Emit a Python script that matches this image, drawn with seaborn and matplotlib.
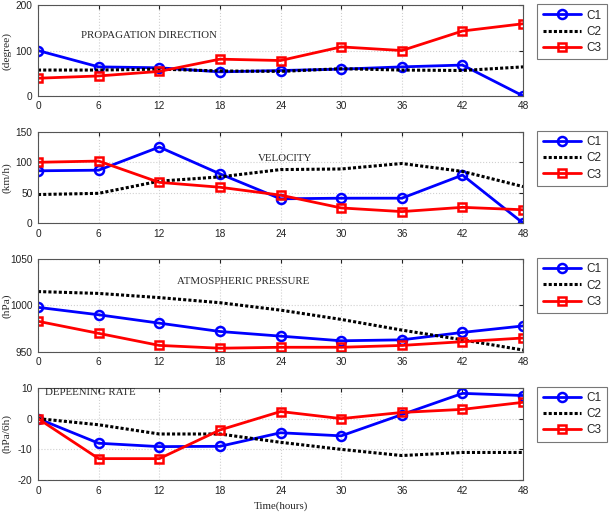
import numpy as np
import pandas as pd
import matplotlib
matplotlib.use("Agg")
import matplotlib.pyplot as plt
import seaborn as sns

sns.set_style("white")
plt.rcParams["axes.unicode_minus"] = False

# time axis
hours = [0, 6, 12, 18, 24, 30, 36, 42, 48]

# propagation direction (degree)
dir_c1 = [100, 64, 62, 53, 56, 59, 64, 68, 0]
dir_c2 = [57, 57, 59, 55, 54, 60, 57, 56, 64]
dir_c3 = [39, 44, 54, 81, 78, 108, 100, 143, 159]

# velocity (km/h)
vel_c1 = [86, 87, 125, 81, 40, 41, 41, 79, 0]
vel_c2 = [47, 49, 69, 76, 88, 89, 98, 85, 60]
vel_c3 = [100, 102, 67, 59, 46, 25, 19, 26, 22]

# atmospheric pressure (hPa)
pres_c1 = [998, 990, 981, 972, 967, 962, 963, 971, 978]
pres_c2 = [1015, 1013, 1008.5, 1003, 995, 985, 973.5, 963, 952]
pres_c3 = [983, 970, 957, 954, 955, 955, 957, 961, 965]

# deepening rate (hPa/6h)
rate_c1 = [0, -8, -9.1, -9, -4.6, -5.6, 1.3, 8.2, 7.5]
rate_c2 = [0, -2, -5, -5, -7.7, -10, -12, -11, -11]
rate_c3 = [0, -13, -13, -3.7, 2.3, 0, 2, 3, 5.3]

panels = [
    ("PROPAGATION DIRECTION", "(degree)", [dir_c1, dir_c2, dir_c3], (0, 200), [0, 100, 200], (4.3, 134)),
    ("VELOCITY", "(km/h)", [vel_c1, vel_c2, vel_c3], (0, 150), [0, 50, 100, 150], (21.8, 106)),
    ("ATMOSPHERIC PRESSURE", "(hPa)", [pres_c1, pres_c2, pres_c3], (950, 1050), [950, 1000, 1050], (13.8, 1026)),
    ("DEPEENING RATE", "(hPa/6h)", [rate_c1, rate_c2, rate_c3], (-20, 10), [-20, -10, 0, 10], (0.7, 8.5)),
]

styles = {
    "C1": dict(color="#0000ff", marker="o", linestyle="-", linewidth=2.0, markersize=6.5,
               markerfacecolor="none", markeredgecolor="#0000ff", markeredgewidth=1.8),
    "C2": dict(color="black", marker="None", linestyle=(0, (1, 0.7)), linewidth=2.2),
    "C3": dict(color="#ff0000", marker="s", linestyle="-", linewidth=2.0, markersize=6,
               markerfacecolor="none", markeredgecolor="#ff0000", markeredgewidth=1.8),
}

fig = plt.figure(figsize=(6.09, 5.13), dpi=100)
tops = [0.990, 0.743, 0.495, 0.244]
bottoms = [0.813, 0.565, 0.314, 0.064]
left, right = 0.0624, 0.859

serif = ["Liberation Serif", "DejaVu Serif"]
sans = ["Liberation Sans", "DejaVu Sans"]

for i, (title, ylab, series, ylim, yticks, tpos) in enumerate(panels):
    ax = fig.add_axes([left, bottoms[i], right - left, tops[i] - bottoms[i]])
    df = pd.DataFrame({"hours": hours * 3,
                       "value": series[0] + series[1] + series[2],
                       "case": ["C1"] * 9 + ["C2"] * 9 + ["C3"] * 9})
    for name in ["C1", "C2", "C3"]:
        sub = df[df["case"] == name]
        sns.lineplot(data=sub, x="hours", y="value", ax=ax, label=name)
        ax.lines[-1].set(**styles[name])
    ax.set_xlim(0, 48)
    ax.set_ylim(*ylim)
    ax.set_xticks(hours)
    ax.set_yticks(yticks)
    ax.grid(True, color="#d0d0d0", linestyle=":", linewidth=0.8)
    for s in ax.spines.values():
        s.set_color("#555555")
        s.set_linewidth(0.8)
    ax.tick_params(direction="in", length=3, top=True, right=True, labelsize=7.3,
                   colors="#222222", pad=4)
    for lab in ax.get_xticklabels() + ax.get_yticklabels():
        lab.set_family(sans)
    ax.set_ylabel(ylab, fontsize=8.2, family=serif)
    ax.yaxis.set_label_coords(-0.054, 0.5)
    ax.set_xlabel("")
    ax.text(tpos[0], tpos[1], title, fontsize=7.8, family=serif, va="center", ha="left")
    leg = ax.legend(loc="upper left", bbox_to_anchor=(1.029, 1.01),
                    prop={"family": sans, "size": 8.5},
                    frameon=True, fancybox=False, edgecolor="#555555",
                    handlelength=3.3, borderpad=0.45, labelspacing=0.35, handletextpad=0.4,
                    borderaxespad=0)
    leg.get_frame().set_linewidth(0.8)
    if i == 3:
        ax.set_xlabel("Time(hours)", fontsize=7.8, family=serif, labelpad=4)

fig.savefig("out.png", dpi=100)
